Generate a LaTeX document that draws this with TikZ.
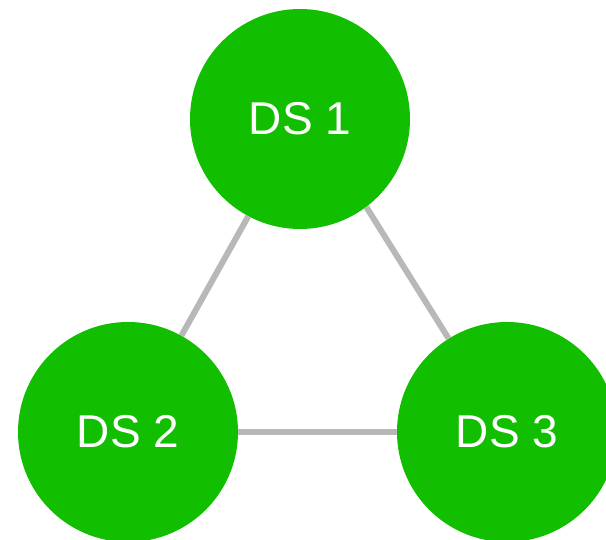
\documentclass[tikz,border=0pt]{standalone}
\usepackage{fontspec}
\setmainfont{Liberation Sans}
\definecolor{dsgreen}{HTML}{12BE00}
\definecolor{linkgray}{HTML}{B8B8B8}
\begin{document}
\begin{tikzpicture}[x=1pt,y=1pt,
  dsnode/.style={circle,fill=dsgreen,minimum size=220pt,inner sep=0pt,
    text=white,font=\fontsize{46}{46}\selectfont},
  link/.style={draw=linkgray,line width=6pt}]
  \useasboundingbox (0,0) rectangle (606,540);
  % the three data stores
  \coordinate (c1) at (300,421);
  \coordinate (c2) at (128,108);
  \coordinate (c3) at (507,108);
  \node[dsnode] (ds1) at (c1) {DS 1};
  \node[dsnode] (ds2) at (c2) {DS 2};
  \node[dsnode] (ds3) at (c3) {DS 3};
  % links between them, running from rim to rim
  \draw[link] (ds1.-118) -- (ds2.61);
  \draw[link] (ds1.-53) -- (ds3.122);
  \draw[link] (ds2) -- (ds3);
\end{tikzpicture}
\end{document}
